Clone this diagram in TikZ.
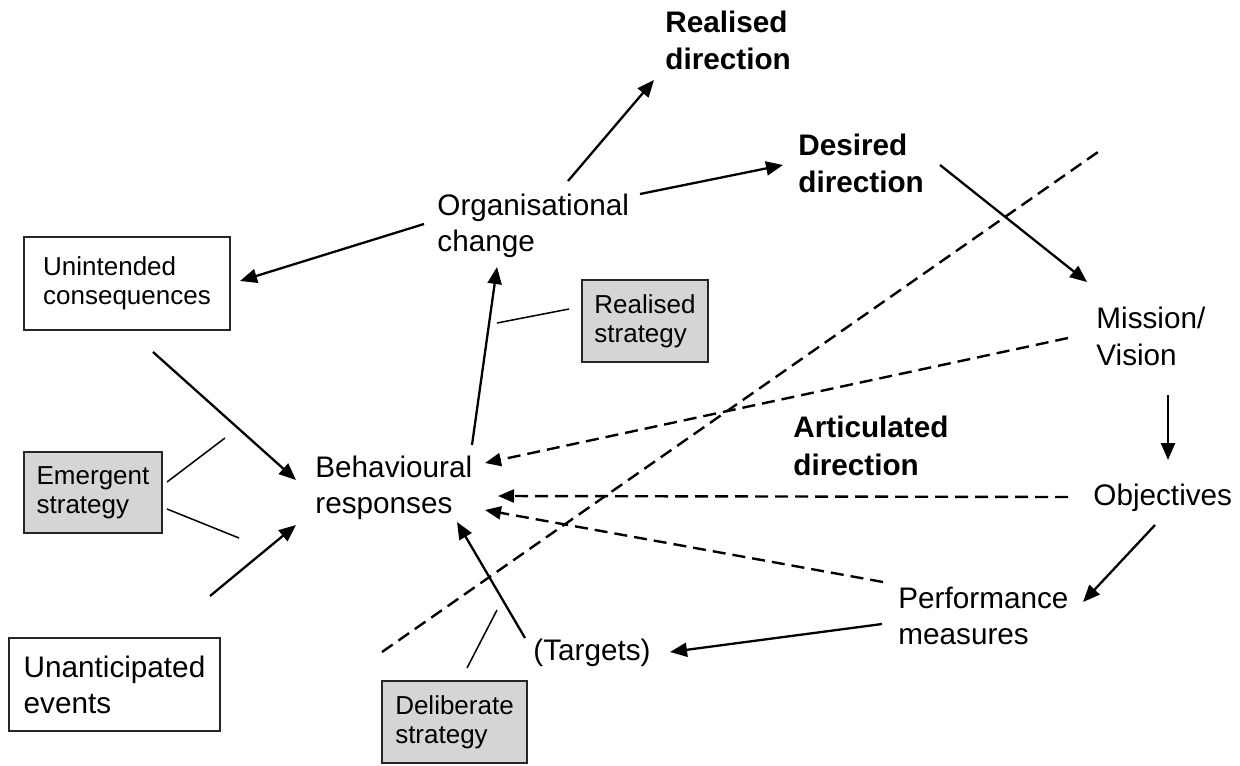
\documentclass[tikz,border=0pt]{standalone}
\usepackage{fontspec}
\setmainfont{Liberation Sans}
\usetikzlibrary{arrows.meta}
\definecolor{boxgray}{RGB}{212,213,214}
\tikzset{
  lbl/.style={inner sep=0pt, anchor=north west, align=left,
    font=\fontsize{14.85pt}{18pt}\selectfont},
  dirlbl/.style={lbl, font=\fontsize{14.85pt}{18.5pt}\selectfont\bfseries},
  boxed/.style={draw=black!85, line width=0.9pt, inner sep=0pt, align=left,
    font=\fontsize{13pt}{14.5pt}\selectfont},
  stratbox/.style={boxed, fill=boxgray},
  flow/.style={line width=1.15pt, -{Triangle[length=8.5pt,width=7pt]}},
  artic/.style={line width=1.2pt, dash pattern=on 6.5pt off 3.5pt,
    -{Triangle[length=8pt,width=6.5pt]}},
  divide/.style={line width=1.2pt, dash pattern=on 6.5pt off 3.5pt},
  tie/.style={line width=0.75pt},
}
\begin{document}
\begin{tikzpicture}[x=0.5pt,y=-0.5pt]
\useasboundingbox (0,0) rectangle (1240,765);

% direction labels
\node[dirlbl] (realdir) at (665,10.6) {Realised\\direction};
\node[dirlbl] (desdir)  at (798,133.6) {Desired\\direction};
\node[dirlbl, font=\fontsize{14.85pt}{19pt}\selectfont\bfseries] (artdir) at (793,415.6) {Articulated\\direction};

% plain text labels
\node[lbl] (org)     at (437,193.6) {Organisational\\change};
\node[lbl] (beh)     at (315,455.6) {Behavioural\\responses};
\node[lbl, font=\fontsize{14.85pt}{18.5pt}\selectfont] (mission) at (1096,306.6) {Mission/\\Vision};
\node[lbl] (obj)     at (1093,483.6) {Objectives};
\node[lbl] (perf)    at (898,586.6) {Performance\\measures};
\node[lbl] (targets) at (533,638.6) {(Targets)};

% boxes
\node[boxed, minimum width=103pt, minimum height=46.5pt] (unint) at (127,283.5) {Unintended\\consequences};
\node[boxed, minimum width=105.5pt, minimum height=46.5pt,
      font=\fontsize{14.85pt}{18pt}\selectfont] (unant) at (114.5,684.5) {Unanticipated\\events};
\node[stratbox, minimum width=69pt, minimum height=40.5pt] (emerg) at (93,492.5) {Emergent\\strategy};
\node[stratbox, minimum width=63pt, minimum height=41pt] (realstr) at (645,321) {Realised\\strategy};
\node[stratbox, minimum width=72.5pt, minimum height=41pt] (delib) at (454.5,722) {Deliberate\\strategy};

% connector end points
\coordinate (org-up)    at (568,181);
\coordinate (rd-in)     at (654,80);
\coordinate (org-right) at (640,194);
\coordinate (dd-in)     at (783,165);
\coordinate (dd-out)    at (940,165);
\coordinate (mv-in)     at (1087,282);
\coordinate (org-left)  at (424,224);
\coordinate (uc-in)     at (240,281);
\coordinate (beh-up)    at (472,445);
\coordinate (org-in)    at (497,267);
\coordinate (uc-out)    at (153,352);
\coordinate (beh-in1)   at (296,480);
\coordinate (ue-out)    at (210,596);
\coordinate (beh-in2)   at (296,525);
\coordinate (mv-out)    at (1068,338);
\coordinate (beh-in3)   at (485,463);
\coordinate (obj-out)   at (1068,497);
\coordinate (beh-in4)   at (498,496);
\coordinate (pm-out)    at (883,582);
\coordinate (beh-in5)   at (485,510);
\coordinate (mv-down)   at (1168,395);
\coordinate (obj-in)    at (1168,460);
\coordinate (obj-down)  at (1155,525);
\coordinate (pm-in)     at (1083,602);
\coordinate (pm-left)   at (882,624);
\coordinate (tg-in)     at (670,652);
\coordinate (tg-up)     at (525,638);
\coordinate (beh-in6)   at (457,522);
\coordinate (div-a)     at (382,652);
\coordinate (div-b)     at (1098,152);
\coordinate (rs-a)      at (569,309);
\coordinate (rs-b)      at (497,323);
\coordinate (es-a1)     at (167,482);
\coordinate (es-b1)     at (225,438);
\coordinate (es-a2)     at (167,509);
\coordinate (es-b2)     at (239,538);
\coordinate (ds-a)      at (467,668);
\coordinate (ds-b)      at (497,610);

% boundary between realised and intended sides
\draw[divide] (div-a) -- (div-b);

% solid flows
\draw[flow] (org-up) -- (rd-in);
\draw[flow] (org-right) -- (dd-in);
\draw[flow] (dd-out) -- (mv-in);
\draw[flow] (org-left) -- (uc-in);
\draw[flow] (beh-up) -- (org-in);
\draw[flow] (uc-out) -- (beh-in1);
\draw[flow] (ue-out) -- (beh-in2);
\draw[flow] (mv-down) -- (obj-in);
\draw[flow] (obj-down) -- (pm-in);
\draw[flow] (pm-left) -- (tg-in);
\draw[flow] (tg-up) -- (beh-in6);

% articulated direction (dashed)
\draw[artic] (mv-out) -- (beh-in3);
\draw[artic] (obj-out) -- (beh-in4);
\draw[artic] (pm-out) -- (beh-in5);

% strategy ties
\draw[tie] (rs-a) -- (rs-b);
\draw[tie] (es-a1) -- (es-b1);
\draw[tie] (es-a2) -- (es-b2);
\draw[tie] (ds-a) -- (ds-b);
\end{tikzpicture}
\end{document}
